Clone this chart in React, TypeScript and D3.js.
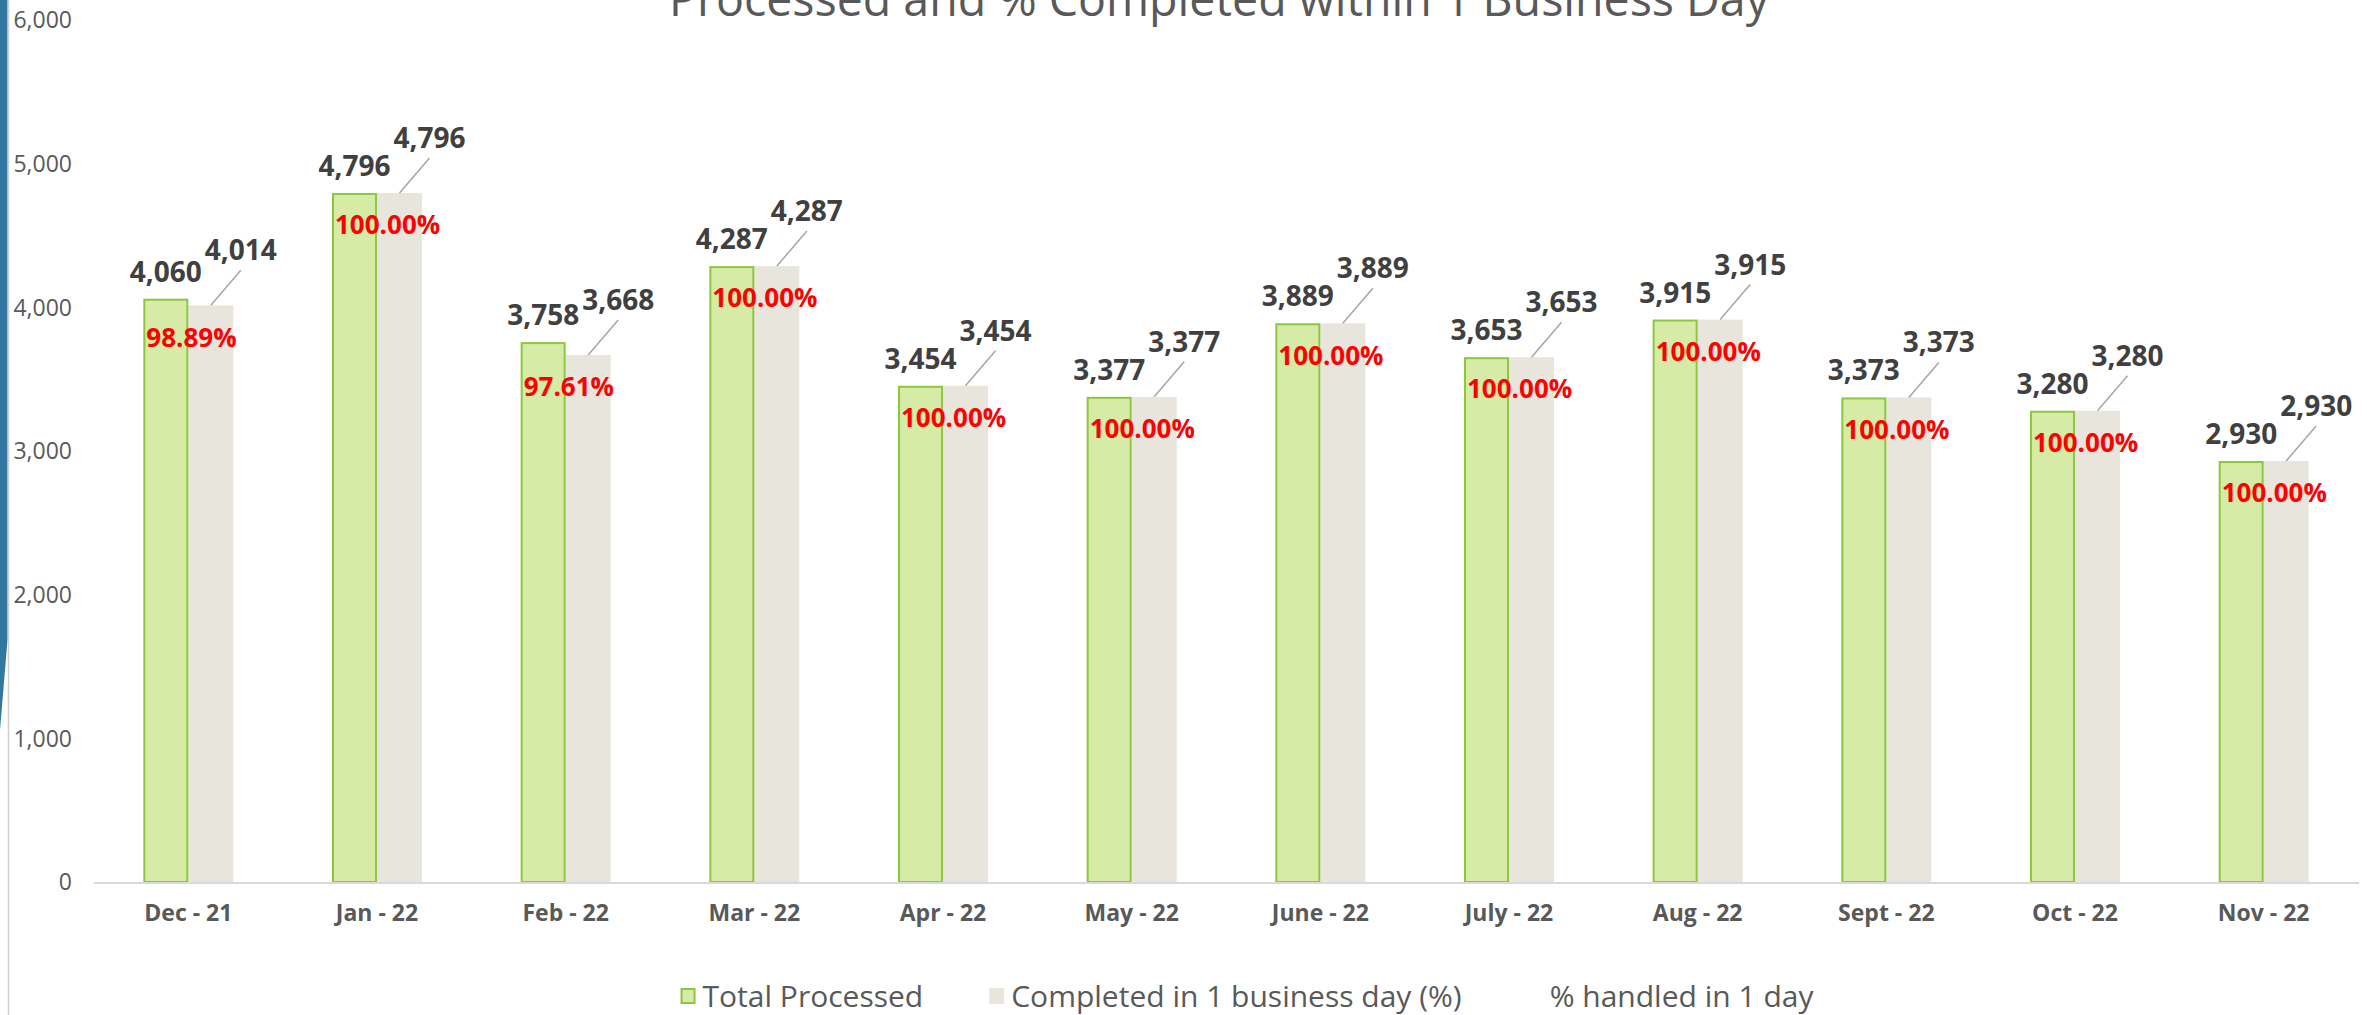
import React, { useMemo } from "react";
import * as d3 from "d3";

// ---------- data ----------
const categories = [
  "Dec - 21", "Jan - 22", "Feb - 22", "Mar - 22", "Apr - 22", "May - 22",
  "June - 22", "July - 22", "Aug - 22", "Sept - 22", "Oct - 22", "Nov - 22",
];
const totalProcessed = [4060, 4796, 3758, 4287, 3454, 3377, 3889, 3653, 3915, 3373, 3280, 2930];
const completedIn1Day = [4014, 4796, 3668, 4287, 3454, 3377, 3889, 3653, 3915, 3373, 3280, 2930];
const pctHandled = [98.89, 100, 97.61, 100, 100, 100, 100, 100, 100, 100, 100, 100];
const yTicks = [0, 1000, 2000, 3000, 4000, 5000, 6000];
const seriesNames = ["Total Processed", "Completed in 1 business day (%)", "% handled in 1 day"];
const chartTitle = "Processed and % Completed within 1 Business Day";

// ---------- layout / style ----------
const W = 2367;
const H = 1015;
const FONT = "'Open Sans', 'Noto Sans', sans-serif";
const TEXT_GRAY = "#595959";
const LABEL_DARK = "#404040";
const GREEN_FILL = "#D6EBA5";
const GREEN_STROKE = "#8DC63F";
const GRAY_FILL = "#E8E6DC";

function measure(text: string, font: string): number {
  const c = document.createElement("canvas");
  const ctx = c.getContext("2d");
  if (!ctx) return text.length * 15;
  ctx.font = font;
  return ctx.measureText(text).width;
}

export default function App() {
  const x = useMemo(
    () =>
      d3.scaleBand<string>()
        .domain(categories)
        .range([94, 2358])
        .paddingInner(0.523)
        .paddingOuter(0.2615),
    []
  );
  const x1 = useMemo(
    () => d3.scaleBand<string>().domain(["total", "completed"]).range([0, x.bandwidth()]).padding(0),
    [x]
  );
  const y = useMemo(() => d3.scaleLinear().domain([0, 6000]).range([882, 20]), []);
  const fmt = d3.format(",");

  const legendFontSize = 30;
  const legendItems = useMemo(() => {
    const marker = 15;
    const gap = 7;
    const between = 66;
    const widths = seriesNames.map((n) => measure(n, `${legendFontSize}px 'Open Sans'`));
    const total = widths.reduce((a, w) => a + marker + gap + w, 0) + between * (seriesNames.length - 1);
    let cx = 1247 - total / 2;
    return seriesNames.map((n, i) => {
      const item = { name: n, x: cx, textX: cx + marker + gap, i };
      cx += marker + gap + widths[i] + between;
      return item;
    });
  }, []);

  const labelSize = 28;
  const pctSize = 26;
  const axisSize = 23;

  return (
    <svg
      width={W}
      height={H}
      viewBox={`0 0 ${W} ${H}`}
      style={{ position: "absolute", left: 0, top: 0, display: "block", background: "#fff" }}
      fontFamily={FONT}
    >
      {/* left decoration */}
      <path d="M0,0 L7.5,0 L7.5,640 L0,730 Z" fill="#31779F" />
      <line x1={8.5} x2={8.5} y1={0} y2={H} stroke="#D0D0D0" strokeWidth={1.5} />

      {/* title (cut at top, as in the reference) */}
      <text
        x={1219}
        y={16}
        textAnchor="middle"
        fontSize={48}
        fill={TEXT_GRAY}
        textLength={1100}
        lengthAdjust="spacingAndGlyphs"
      >
        {chartTitle}
      </text>

      {/* y axis tick labels */}
      {yTicks.map((t) => (
        <text
          key={t}
          x={72}
          y={y(t) + 0.357 * axisSize}
          textAnchor="end"
          fontSize={axisSize}
          fill={TEXT_GRAY}
        >
          {fmt(t)}
        </text>
      ))}

      {/* bars */}
      {categories.map((c, i) => {
        const bx = x(c) as number;
        const gx = bx + (x1("total") as number);
        const cx = bx + (x1("completed") as number);
        const bw = x1.bandwidth();
        return (
          <g key={c}>
            <rect
              x={cx}
              y={y(completedIn1Day[i])}
              width={bw}
              height={y(0) - y(completedIn1Day[i])}
              fill={GRAY_FILL}
            />
            <rect
              x={gx + 1}
              y={y(totalProcessed[i]) + 1}
              width={bw - 2}
              height={y(0) - y(totalProcessed[i]) - 1}
              fill={GREEN_FILL}
              stroke={GREEN_STROKE}
              strokeWidth={2}
            />
          </g>
        );
      })}

      {/* baseline */}
      <line x1={94} x2={2359} y1={y(0) + 1} y2={y(0) + 1} stroke="#D9D9D9" strokeWidth={2} />

      {/* x labels */}
      {categories.map((c) => (
        <text
          key={c}
          x={(x(c) as number) + x.bandwidth() / 2}
          y={913 + 0.357 * axisSize}
          textAnchor="middle"
          fontSize={axisSize}
          fontWeight="bold"
          fill={TEXT_GRAY}
        >
          {c}
        </text>
      ))}

      {/* data labels */}
      {categories.map((c, i) => {
        const bx = x(c) as number;
        const bw = x1.bandwidth();
        const gx = bx + (x1("total") as number);
        const cxc = bx + (x1("completed") as number) + bw / 2;
        const gTop = y(totalProcessed[i]);
        const cTop = y(completedIn1Day[i]);
        const lblX = cxc + 30;
        const lblCenterY = cTop - 55;
        return (
          <g key={c}>
            <text
              x={gx + bw / 2}
              y={gTop - 27 + 0.357 * labelSize}
              textAnchor="middle"
              fontSize={labelSize}
              fontWeight="bold"
              fill={LABEL_DARK}
            >
              {fmt(totalProcessed[i])}
            </text>
            <line
              x1={cxc}
              y1={cTop}
              x2={lblX}
              y2={lblCenterY + 0.357 * labelSize + 10}
              stroke="#A6A6A6"
              strokeWidth={1.5}
            />
            <text
              x={lblX}
              y={lblCenterY + 0.357 * labelSize}
              textAnchor="middle"
              fontSize={labelSize}
              fontWeight="bold"
              fill={LABEL_DARK}
            >
              {fmt(completedIn1Day[i])}
            </text>
            <text
              x={gx + 3}
              y={cTop + 32 + 0.357 * pctSize}
              textAnchor="start"
              fontSize={pctSize}
              fontWeight="bold"
              fill="#FF0000"
            >
              {pctHandled[i].toFixed(2) + "%"}
            </text>
          </g>
        );
      })}

      {/* legend */}
      {legendItems.map((it) => (
        <g key={it.name}>
          {it.i === 0 && (
            <rect x={it.x + 1} y={989} width={13} height={14} fill={GREEN_FILL} stroke={GREEN_STROKE} strokeWidth={2} />
          )}
          {it.i === 1 && <rect x={it.x} y={988} width={15} height={16} fill={GRAY_FILL} />}
          <text x={it.textX} y={996 + 0.357 * legendFontSize} fontSize={legendFontSize} fill={TEXT_GRAY}>
            {it.name}
          </text>
        </g>
      ))}
    </svg>
  );
}
